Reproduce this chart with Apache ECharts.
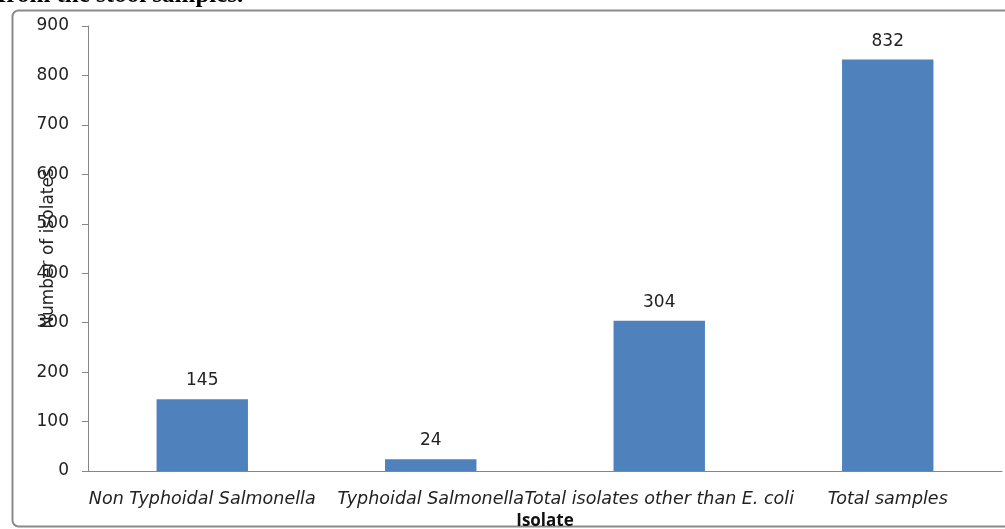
<!DOCTYPE html>
<html><head><meta charset="utf-8">
<script src="https://cdn.jsdelivr.net/npm/echarts@6/dist/echarts.min.js"></script>
<style>html,body{margin:0;padding:0;background:#fff}#c{width:1005px;height:529px}</style>
</head><body><div id="c"></div>
<script>
const categories = ["Non Typhoidal Salmonella", "Typhoidal Salmonella", "Total isolates other than E. coli", "Total samples"];
const values = [145, 24, 304, 832];
const yTicks = [0, 100, 200, 300, 400, 500, 600, 700, 800, 900];

const chart = echarts.init(document.getElementById('c'), null, {renderer: 'canvas'});
const font = '"DejaVu Sans", sans-serif';
chart.setOption({
  animation: false,
  backgroundColor: '#fff',
  graphic: [
    {type: 'rect', shape: {x: 12.5, y: 10.5, width: 1010, height: 516, r: 6},
     style: {fill: 'none', stroke: '#8a8a8a', lineWidth: 2}, z: 0},
    {type: 'text', left: -2, top: -17,
     style: {text: 'from the stool samples.', font: 'bold 25px "Liberation Serif", serif', fill: '#000'}}
  ],
  grid: {left: 88, right: 3, top: 26, bottom: 58, containLabel: false, outerBoundsMode: 'none'},
  xAxis: {
    type: 'category', data: categories,
    name: 'Isolate', nameLocation: 'middle', nameGap: 42, nameMoveOverlap: false,
    nameTextStyle: {fontFamily: '"Open Sans", sans-serif', fontWeight: 'bold', fontSize: 17, color: '#111'},
    axisLine: {lineStyle: {color: '#868686', width: 1}},
    axisTick: {show: false},
    axisLabel: {fontFamily: font, fontStyle: 'italic', fontSize: 17.5, color: '#222', margin: 19, interval: 0}
  },
  yAxis: {
    type: 'value', min: yTicks[0], max: yTicks[yTicks.length - 1], interval: 100,
    name: 'Number of isolates', nameLocation: 'middle', nameGap: 31, nameRotate: 90, nameMoveOverlap: false,
    nameTextStyle: {fontFamily: font, fontSize: 17, color: '#222'},
    axisLine: {show: true, lineStyle: {color: '#868686', width: 1}},
    axisTick: {show: true, length: 6, lineStyle: {color: '#868686'}},
    splitLine: {show: false},
    axisLabel: {fontFamily: font, fontSize: 17, color: '#222', margin: 19}
  },
  series: [{
    type: 'bar', data: values, barWidth: '40%',
    itemStyle: {color: '#4F81BD'},
    label: {show: true, position: 'top', distance: 10, fontFamily: font, fontSize: 17, color: '#222'}
  }]
});
</script></body></html>
